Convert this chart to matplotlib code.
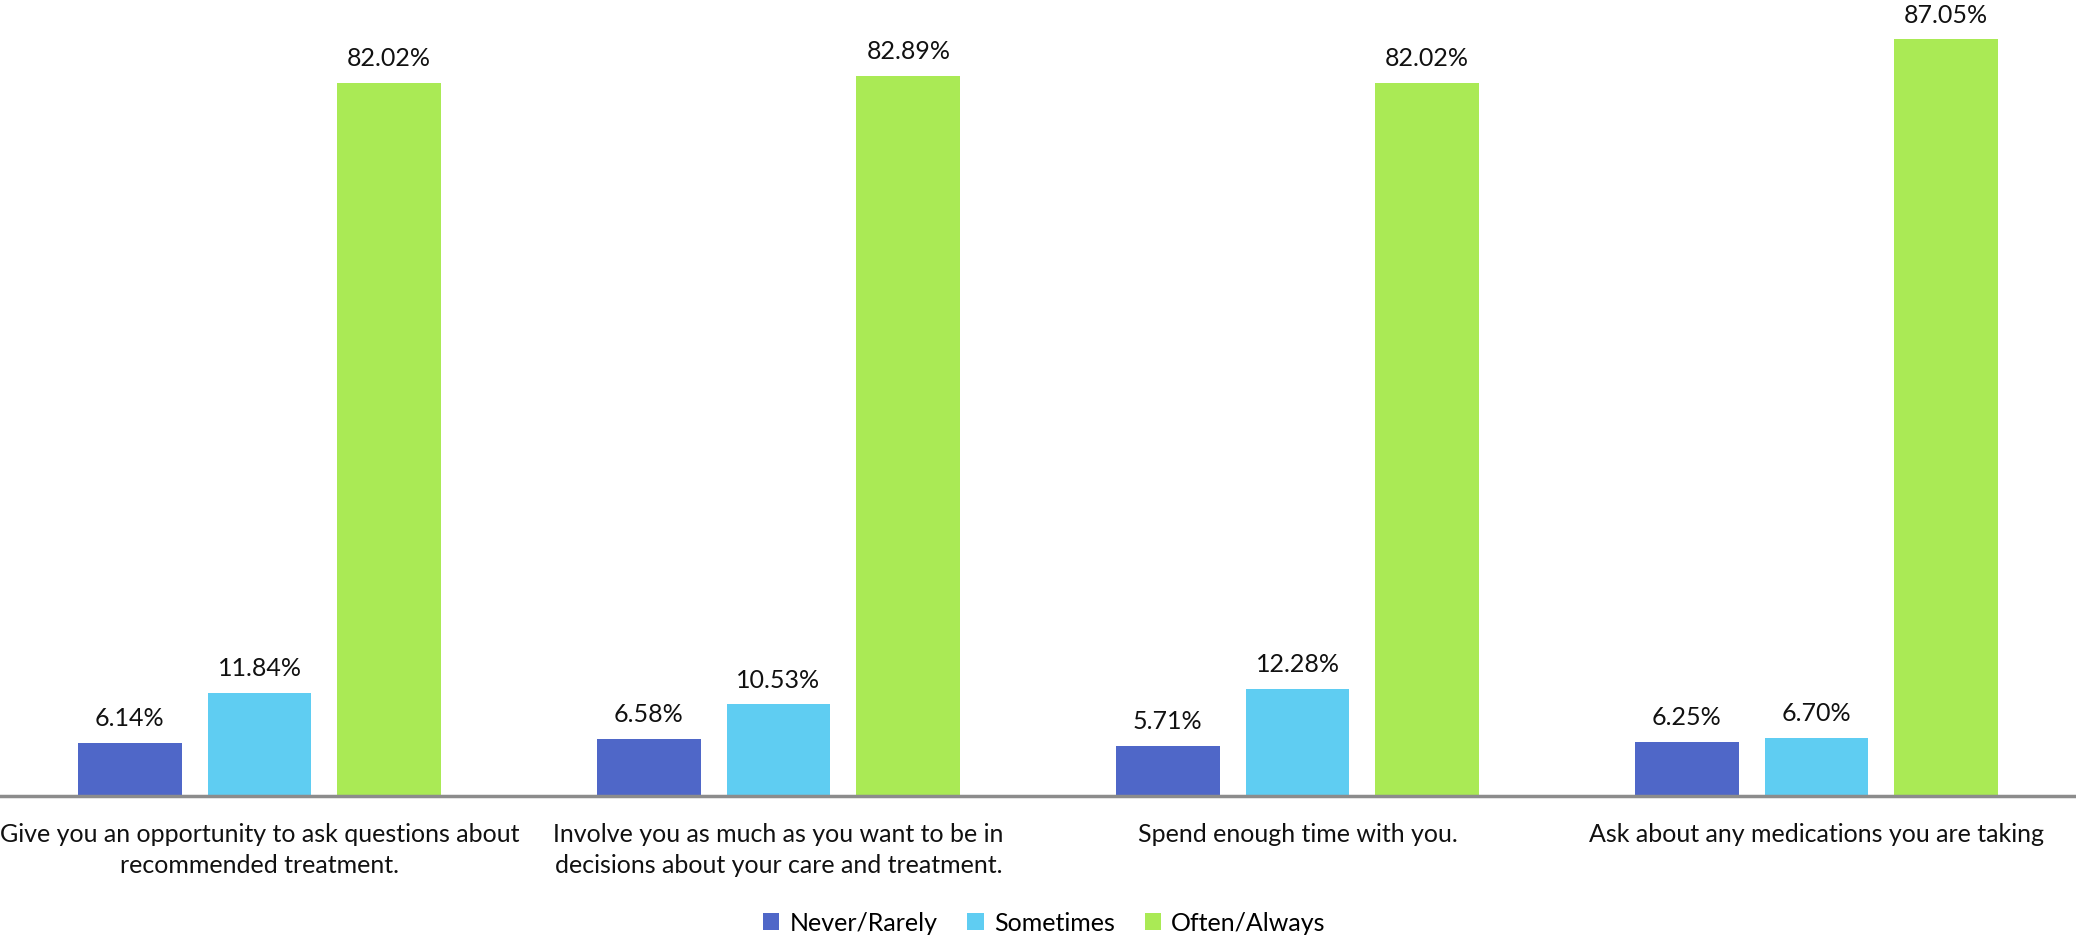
import matplotlib.pyplot as plt
import numpy as np

# Survey data
categories = [
    "Give you an opportunity to ask questions about\nrecommended treatment.",
    "Involve you as much as you want to be in\ndecisions about your care and treatment.",
    "Spend enough time with you.",
    "Ask about any medications you are taking",
]
series_names = ["Never/Rarely", "Sometimes", "Often/Always"]
never_rarely = [6.14, 6.58, 5.71, 6.25]
sometimes = [11.84, 10.53, 12.28, 6.70]
often_always = [82.02, 82.89, 82.02, 87.05]
colors = ["#4F67C8", "#5FCDF2", "#AAEA55"]

plt.rcParams['font.family'] = ['Lato', 'DejaVu Sans']

fig = plt.figure(figsize=(20.76, 9.37), dpi=100)
ax = fig.add_axes([0, 0.1494, 1, 0.8506])

x = np.arange(len(categories))
width = 0.2
offsets = [-0.25, 0, 0.25]

handles = []
for vals, off, col, name in zip([never_rarely, sometimes, often_always], offsets, colors, series_names):
    bars = ax.bar(x + off, vals, width, color=col, label=name)
    handles.append(bars)
    for b, v in zip(bars, vals):
        ax.annotate(f"{v:.2f}%", (b.get_x() + b.get_width() / 2, v),
                    xytext=(0, 10), textcoords='offset points',
                    ha='center', va='bottom', fontsize=18, color='#111111')

ax.set_xlim(-0.5, 3.5)
ax.set_ylim(0, 91.7)
ax.set_yticks([])
ax.set_xticks(x)
ax.set_xticklabels(categories, fontsize=18, color='#111111', linespacing=1.4)
ax.tick_params(axis='x', length=0, pad=19)
for s in ['top', 'right', 'left']:
    ax.spines[s].set_visible(False)
ax.spines['bottom'].set_color('#8C8C8C')
ax.spines['bottom'].set_linewidth(2.5)
ax.patch.set_alpha(0)

fig.legend(handles=handles, labels=series_names, loc='lower center',
           bbox_to_anchor=(0.503, -0.022), ncol=3, frameon=False, fontsize=18,
           handlelength=0.65, handleheight=0.65, handletextpad=0.4, columnspacing=1.2)

fig.savefig("out.png", dpi=100)
